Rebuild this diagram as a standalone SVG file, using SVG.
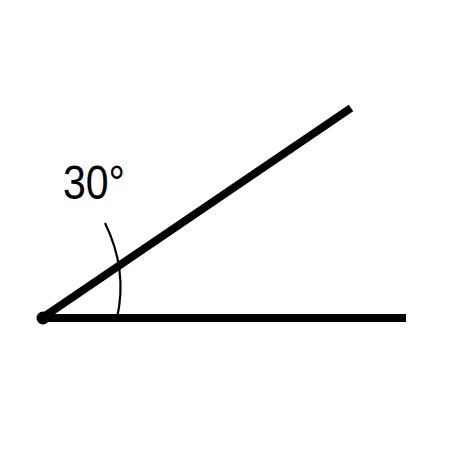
<svg xmlns="http://www.w3.org/2000/svg" width="450" height="450" viewBox="0 0 450 450">
<style>
.ray{stroke:#000;stroke-width:8;fill:none}
.arc{stroke:#000;stroke-width:2.2;fill:none}
.lbl{font-family:"Liberation Sans",Arial,sans-serif;font-size:49px;fill:#000}
</style>
<rect width="450" height="450" fill="#fff"/>
<g id="connectors">
<line class="ray" x1="42" y1="318" x2="406" y2="318"/>
<line class="ray" x1="42" y1="318" x2="351" y2="108"/>
<path class="arc" d="M105,223 Q128,270 117,318"/>
</g>
<g id="vertex"><circle cx="43" cy="318" r="6.5" fill="#000"/></g>
<g id="label"><text class="lbl" x="63" y="199" textLength="62" lengthAdjust="spacingAndGlyphs">30°</text></g>
</svg>
